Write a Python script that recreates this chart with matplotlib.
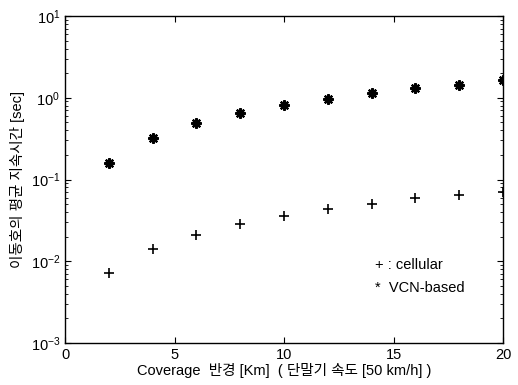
import matplotlib
matplotlib.use("Agg")
import matplotlib.pyplot as plt
from matplotlib.ticker import LogLocator, FixedLocator

plt.rcParams['font.family'] = ['Liberation Sans', 'Noto Sans CJK KR', 'DejaVu Sans']
plt.rcParams['mathtext.fontset'] = 'custom'
plt.rcParams['mathtext.rm'] = 'Liberation Sans'

coverage = [2, 4, 6, 8, 10, 12, 14, 16, 18, 20]
cellular = [0.0072, 0.0141, 0.0211, 0.0286, 0.0357, 0.0432, 0.0501, 0.060, 0.0646, 0.071]
vcn = [0.159, 0.325, 0.487, 0.645, 0.81, 0.975, 1.14, 1.33, 1.45, 1.65]
xticks = [0, 5, 10, 15, 20]
xlabel = "Coverage  반경 [Km]  ( 단말기 속도 [50 km/h] )"
ylabel = "이동호의 평균 지속시간 [sec]"

fig = plt.figure(figsize=(5.18, 3.85), dpi=100)
ax = fig.add_axes([65/518, 1 - 343/385, (503 - 65)/518, (343 - 16)/385])

ax.plot(coverage, cellular, linestyle='none', marker='+', color='black',
        markersize=7, markeredgewidth=1.2)
ax.plot(coverage, vcn, linestyle='none', marker=(8, 2, 0), color='black',
        markersize=7.5, markeredgewidth=1.6)

ax.set_yscale('log')
ax.set_xlim(0, 20)
ax.set_ylim(1e-3, 1e1)
ax.xaxis.set_major_locator(FixedLocator(xticks))
ax.yaxis.set_major_locator(LogLocator(base=10, numticks=10))
ax.yaxis.set_minor_locator(LogLocator(base=10, subs=range(2, 10), numticks=20))
ax.tick_params(which='both', direction='in', top=True, right=True, labelsize=10.5)
ax.tick_params(which='major', length=4, width=0.8)
ax.tick_params(which='minor', length=2, width=0.6)
for s in ax.spines.values():
    s.set_linewidth(1.0)

ax.set_xlabel(xlabel, fontsize=10.5, labelpad=1)
ax.set_ylabel(ylabel, fontsize=10.5, labelpad=4)

fig.text(375/518, 1 - 265/385, "+ : cellular", fontsize=10.5, ha='left', va='center')
fig.text(375/518, 1 - 288/385, "*  VCN-based", fontsize=10.5, ha='left', va='center')

fig.savefig("out.png", dpi=100)
